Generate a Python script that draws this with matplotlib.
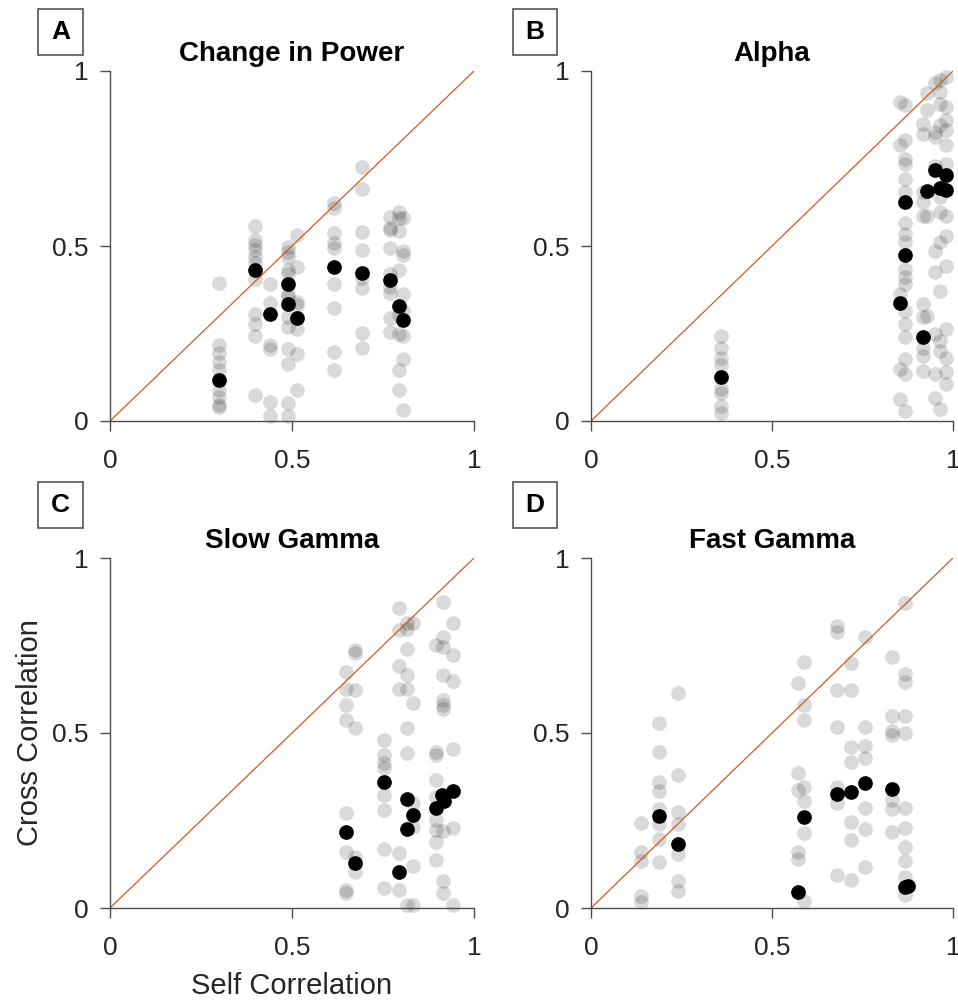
import matplotlib
matplotlib.use("Agg")
import matplotlib.pyplot as plt
from matplotlib.patches import Rectangle

plt.rcParams['font.family'] = ['Liberation Sans', 'DejaVu Sans']

# ---------------- data ----------------
titles = ["Change in Power", "Alpha", "Slow Gamma", "Fast Gamma"]
panel_letters = ["A", "B", "C", "D"]
tick_values = [0, 0.5, 1]
tick_labels = ["0", "0.5", "1"]
xlabel_text = "Self Correlation"
ylabel_text = "Cross Correlation"

# Panel A (Change in Power): individual points grouped by self-correlation column
a_col_self = [0.300, 0.397, 0.440, 0.489, 0.514, 0.615, 0.692, 0.768, 0.793, 0.804]
a_col_cross = [
    [0.393, 0.217, 0.193, 0.169, 0.145, 0.088, 0.069, 0.045, 0.040],
    [0.557, 0.517, 0.503, 0.489, 0.469, 0.452, 0.407, 0.307, 0.276, 0.242, 0.073],
    [0.391, 0.336, 0.217, 0.207, 0.054, 0.013],
    [0.496, 0.484, 0.468, 0.431, 0.420, 0.364, 0.355, 0.298, 0.269, 0.207, 0.162, 0.052, 0.013],
    [0.531, 0.439, 0.341, 0.331, 0.264, 0.191, 0.088],
    [0.622, 0.608, 0.538, 0.508, 0.493, 0.391, 0.322, 0.196, 0.147],
    [0.725, 0.662, 0.541, 0.490, 0.408, 0.379, 0.252, 0.210],
    [0.584, 0.551, 0.545, 0.495, 0.420, 0.384, 0.366, 0.293, 0.253],
    [0.598, 0.579, 0.544, 0.431, 0.302, 0.250, 0.147, 0.090],
    [0.579, 0.487, 0.474, 0.364, 0.315, 0.242, 0.178, 0.032],
]
a_mean_self = [0.300, 0.397, 0.440, 0.489, 0.489, 0.514, 0.615, 0.692, 0.768, 0.793, 0.804]
a_mean_cross = [0.116, 0.431, 0.305, 0.391, 0.334, 0.293, 0.439, 0.422, 0.403, 0.329, 0.288]

# Panel B (Alpha)
b_col_self = [0.359, 0.853, 0.868, 0.917, 0.929, 0.951, 0.963, 0.982]
b_col_cross = [
    [0.244, 0.208, 0.181, 0.160, 0.091, 0.081, 0.043, 0.024],
    [0.912, 0.788, 0.363, 0.150, 0.062],
    [0.903, 0.802, 0.750, 0.735, 0.692, 0.654, 0.565, 0.535, 0.511, 0.435, 0.411,
     0.392, 0.315, 0.277, 0.239, 0.177, 0.134, 0.029],
    [0.850, 0.819, 0.654, 0.626, 0.587, 0.334, 0.296, 0.210, 0.186, 0.143],
    [0.936, 0.888, 0.587, 0.301],
    [0.965, 0.826, 0.812, 0.730, 0.487, 0.425, 0.248, 0.134, 0.067],
    [0.974, 0.941, 0.907, 0.845, 0.640, 0.597, 0.511, 0.372, 0.229, 0.200, 0.033],
    [0.984, 0.898, 0.860, 0.831, 0.788, 0.735, 0.587, 0.530, 0.444, 0.263, 0.181, 0.139, 0.105],
]
b_mean_self = [0.359, 0.868, 0.868, 0.853, 0.917, 0.929, 0.951, 0.963, 0.982, 0.982]
b_mean_cross = [0.126, 0.627, 0.475, 0.336, 0.241, 0.656, 0.716, 0.667, 0.702, 0.661]

# Panel C (Slow Gamma)
c_col_self = [0.648, 0.673, 0.753, 0.794, 0.815, 0.833, 0.896, 0.915, 0.941]
c_col_cross = [
    [0.675, 0.625, 0.580, 0.537, 0.272, 0.161, 0.051, 0.042],
    [0.737, 0.728, 0.623, 0.513, 0.145, 0.104],
    [0.480, 0.437, 0.413, 0.400, 0.323, 0.280, 0.170, 0.056],
    [0.856, 0.794, 0.691, 0.625, 0.156, 0.051],
    [0.813, 0.796, 0.739, 0.665, 0.627, 0.513, 0.444, 0.008],
    [0.815, 0.585, 0.299, 0.231, 0.120, 0.008],
    [0.751, 0.447, 0.437, 0.366, 0.318, 0.252, 0.223, 0.189, 0.137],
    [0.875, 0.775, 0.746, 0.665, 0.594, 0.580, 0.568, 0.219, 0.076, 0.044],
    [0.813, 0.723, 0.650, 0.453, 0.228, 0.008],
]
c_mean_self = [0.648, 0.673, 0.753, 0.794, 0.815, 0.817, 0.833, 0.896, 0.911, 0.918, 0.941]
c_mean_cross = [0.218, 0.128, 0.361, 0.104, 0.311, 0.225, 0.266, 0.285, 0.323, 0.307, 0.334]

# Panel D (Fast Gamma)
d_col_self = [0.138, 0.187, 0.241, 0.573, 0.589, 0.679, 0.719, 0.756, 0.831, 0.868]
d_col_cross = [
    [0.244, 0.160, 0.134, 0.035, 0.016],
    [0.529, 0.447, 0.361, 0.335, 0.284, 0.241, 0.198, 0.131],
    [0.615, 0.380, 0.275, 0.241, 0.155, 0.076, 0.050],
    [0.642, 0.387, 0.337, 0.160, 0.141],
    [0.703, 0.581, 0.536, 0.347, 0.307, 0.213, 0.021],
    [0.807, 0.789, 0.622, 0.517, 0.347, 0.299, 0.093],
    [0.701, 0.622, 0.460, 0.416, 0.246, 0.195, 0.079],
    [0.775, 0.516, 0.464, 0.428, 0.287, 0.227, 0.117],
    [0.717, 0.550, 0.505, 0.495, 0.308, 0.284, 0.217],
    [0.872, 0.668, 0.646, 0.550, 0.500, 0.287, 0.230, 0.174, 0.134, 0.088, 0.038],
]
d_mean_self = [0.187, 0.241, 0.573, 0.589, 0.679, 0.719, 0.756, 0.831, 0.868, 0.877]
d_mean_cross = [0.263, 0.182, 0.045, 0.259, 0.326, 0.331, 0.356, 0.339, 0.059, 0.062]

# ---------------- layout / style ----------------
W, H = 958, 1002
fig = plt.figure(figsize=(W / 100, H / 100), dpi=100)

def px_rect(x0, y_top, x1, y_bot):
    return [x0 / W, 1 - y_bot / H, (x1 - x0) / W, (y_bot - y_top) / H]

axes_px = [
    (110, 71, 474, 421),
    (591, 71, 953, 421),
    (110, 558, 474, 908),
    (591, 558, 953, 908),
]
box_px = [
    (38, 9, 83, 55),
    (513, 9, 557, 55),
    (38, 482, 83, 528),
    (513, 482, 557, 528),
]

panels = [
    (a_col_self, a_col_cross, a_mean_self, a_mean_cross),
    (b_col_self, b_col_cross, b_mean_self, b_mean_cross),
    (c_col_self, c_col_cross, c_mean_self, c_mean_cross),
    (d_col_self, d_col_cross, d_mean_self, d_mean_cross),
]

spine_col = "#4d4d4d"
text_col = "#262626"
line_col = "#CF5A26"
dot_size = 112

for i, (cs, cc, ms, mc) in enumerate(panels):
    ax = fig.add_axes(px_rect(*axes_px[i]))
    gx, gy = [], []
    for xv, ys in zip(cs, cc):
        gx.extend([xv] * len(ys))
        gy.extend(ys)
    ax.scatter(gx, gy, s=dot_size, color="black", alpha=0.15, linewidths=0,
               zorder=1, clip_on=False)
    lims = [tick_values[0], tick_values[-1]]
    ax.plot(lims, lims, color=line_col, lw=0.9, zorder=2)
    ax.scatter(ms, mc, s=dot_size, color="black", linewidths=0, zorder=3, clip_on=False)

    ax.set_xlim(lims)
    ax.set_ylim(lims)
    ax.set_xticks(tick_values)
    ax.set_xticklabels(tick_labels)
    ax.set_yticks(tick_values)
    ax.set_yticklabels(tick_labels)
    for s in ["top", "right"]:
        ax.spines[s].set_visible(False)
    for s in ["left", "bottom"]:
        ax.spines[s].set_color(spine_col)
        ax.spines[s].set_linewidth(1.0)
    ax.tick_params(axis="both", direction="out", length=7.5, width=1.0,
                   colors=spine_col, labelcolor=text_col, labelsize=19)
    ax.tick_params(axis="x", pad=13)
    ax.tick_params(axis="y", pad=8)
    ax.set_title(titles[i], fontsize=20, fontweight="bold", color="black", pad=7)

    if i == 2:
        ax.set_xlabel(xlabel_text, fontsize=21, color=text_col, labelpad=8)
        ax.set_ylabel(ylabel_text, fontsize=21, color=text_col, labelpad=6)

    bx0, by0, bx1, by1 = box_px[i]
    fig.add_artist(Rectangle((bx0 / W, 1 - by1 / H), (bx1 - bx0) / W, (by1 - by0) / H,
                             transform=fig.transFigure, fill=False,
                             edgecolor="#555555", lw=1.2))
    fig.text((bx0 + bx1) / 2 / W, 1 - (by0 + by1) / 2 / H, panel_letters[i],
             ha="center", va="center", fontsize=19, fontweight="bold", color="black")

fig.savefig("out.png", dpi=100)
